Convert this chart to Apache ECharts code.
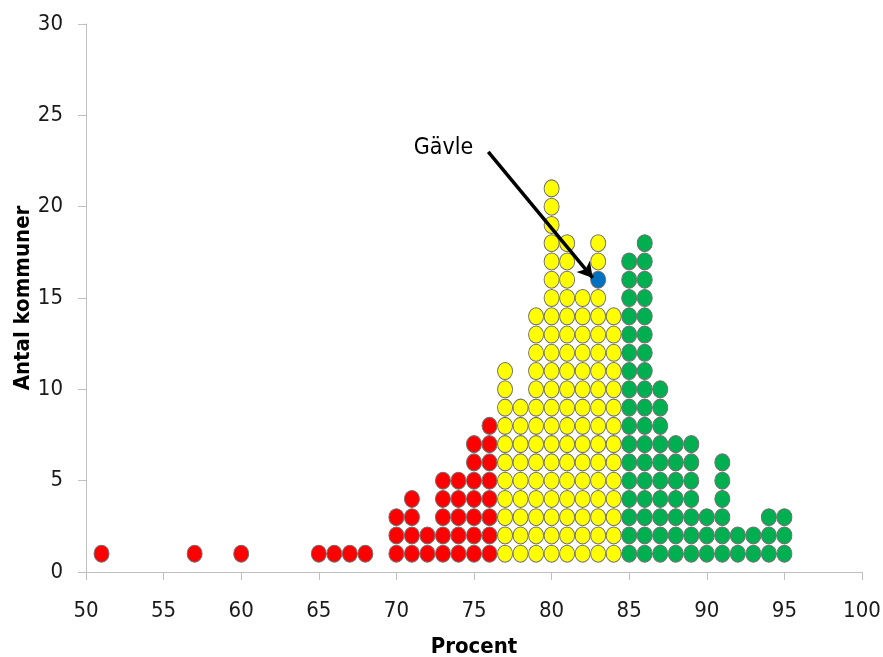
<!DOCTYPE html>
<html>
<head>
<meta charset="utf-8">
<title>Antal kommuner per procent</title>
<script src="https://cdn.jsdelivr.net/npm/echarts@6/dist/echarts.min.js"></script>
<style>
  html, body { margin: 0; padding: 0; background: #fff; }
  #main { width: 883px; height: 657px; }
</style>
</head>
<body>
<div id="main"></div>
<script>
// procent per kolumn och antal kommuner i varje kolumn
var redPercent    = [51, 57, 60, 65, 66, 67, 68, 70, 71, 72, 73, 74, 75, 76];
var redCount      = [1, 1, 1, 1, 1, 1, 1, 3, 4, 2, 5, 5, 7, 8];
var yellowPercent = [77, 78, 79, 80, 81, 82, 83, 84];
var yellowCount   = [11, 9, 14, 21, 18, 15, 18, 14];
var greenPercent  = [85, 86, 87, 88, 89, 90, 91, 92, 93, 94, 95];
var greenCount    = [17, 18, 10, 7, 7, 3, 6, 2, 2, 3, 3];
var gavle = [83, 16];
var gavleName = 'Gävle';
var xTicks = [50, 55, 60, 65, 70, 75, 80, 85, 90, 95, 100];
var yTicks = [0, 5, 10, 15, 20, 25, 30];

// annotation anchors (data space)
var arrowFrom = [75.92, 23.0];
var arrowTo = [82.65, 16.1];
var labelAt = [73.03, 23.2];

function stackDots(xs, counts, skip) {
  var pts = [];
  xs.forEach(function (x, i) {
    for (var k = 1; k <= counts[i]; k++) {
      if (skip && skip[0] === x && skip[1] === k) continue;
      pts.push([x, k]);
    }
  });
  return pts;
}

var font = "'Liberation Sans Narrow', 'DejaVu Sans Condensed', sans-serif";
var dotSize = [15, 17];
var dotBorder = { borderColor: '#6f6f6f', borderWidth: 1 };

function dotSeries(name, data, color) {
  return {
    name: name,
    type: 'scatter',
    data: data,
    symbol: 'circle',
    symbolSize: dotSize,
    itemStyle: Object.assign({ color: color, opacity: 1 }, dotBorder),
    emphasis: { disabled: true },
    z: 2
  };
}

var myChart = echarts.init(document.getElementById('main'));
myChart.setOption({
  animation: false,
  grid: { left: 86, right: 21, top: 24, bottom: 85, containLabel: false, outerBoundsMode: 'none' },
  xAxis: {
    type: 'value',
    min: xTicks[0],
    max: xTicks[xTicks.length - 1],
    interval: 5,
    name: 'Procent',
    nameLocation: 'middle',
    nameGap: 64,
    nameTextStyle: { fontFamily: font, fontSize: 22, fontWeight: 'bold', color: '#000' },
    axisLine: { show: true, onZero: false, lineStyle: { color: '#bfbfbf', width: 1 } },
    axisTick: { show: true, length: 8, lineStyle: { color: '#bfbfbf' } },
    axisLabel: { margin: 28, fontFamily: font, fontSize: 22, color: '#1a1a1a' },
    splitLine: { show: false }
  },
  yAxis: {
    type: 'value',
    min: yTicks[0],
    max: yTicks[yTicks.length - 1],
    interval: 5,
    name: 'Antal kommuner',
    nameLocation: 'middle',
    nameGap: 52,
    nameMoveOverlap: false,
    nameTextStyle: { fontFamily: font, fontSize: 22, fontWeight: 'bold', color: '#000' },
    axisLine: { show: true, lineStyle: { color: '#bfbfbf', width: 1 } },
    axisTick: { show: true, length: 8, lineStyle: { color: '#bfbfbf' } },
    axisLabel: { margin: 23, fontFamily: font, fontSize: 22, color: '#1a1a1a' },
    splitLine: { show: false }
  },
  series: [
    dotSeries('red', stackDots(redPercent, redCount), '#ff0000'),
    dotSeries('yellow', stackDots(yellowPercent, yellowCount, gavle), '#ffff00'),
    dotSeries('green', stackDots(greenPercent, greenCount), '#00b050'),
    Object.assign(dotSeries(gavleName, [gavle], '#0070c0'), {
      markLine: {
        silent: true,
        symbol: ['none', 'arrow'],
        symbolSize: [13, 15],
        label: { show: false },
        lineStyle: { color: '#000', width: 3.5, type: 'solid' },
        data: [[{ coord: arrowFrom }, { coord: arrowTo }]],
        z: 5
      }
    }),
    {
      name: 'label',
      type: 'scatter',
      data: [labelAt],
      symbolSize: 0,
      silent: true,
      itemStyle: { opacity: 1 },
      label: {
        show: true,
        position: 'inside',
        formatter: gavleName,
        fontFamily: font,
        fontSize: 23,
        color: '#000',
        opacity: 1
      }
    }
  ]
});
</script>
</body>
</html>
